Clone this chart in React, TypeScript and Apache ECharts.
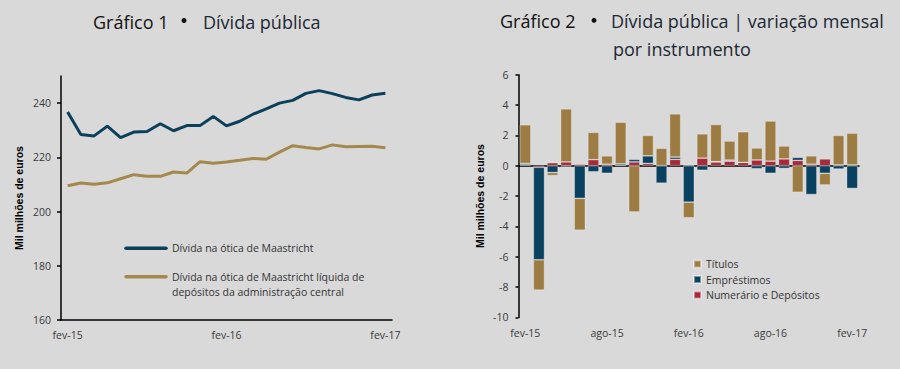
import React, { useEffect, useRef } from 'react';
import * as echarts from 'echarts';

const months = ['fev-15','mar-15','abr-15','mai-15','jun-15','jul-15','ago-15','set-15','out-15','nov-15','dez-15','jan-16','fev-16','mar-16','abr-16','mai-16','jun-16','jul-16','ago-16','set-16','out-16','nov-16','dez-16','jan-17','fev-17'];

const dividaMaastricht = [236.7,228.4,227.9,231.5,227.3,229.3,229.5,232.4,229.8,231.7,231.7,235.1,231.6,233.3,235.9,237.9,240.0,241.0,243.6,244.6,243.5,242.1,241.2,243.0,243.6];
const dividaLiquida = [209.5,210.5,210.1,210.6,212.1,213.6,213.0,213.0,214.6,214.2,218.4,217.8,218.3,218.9,219.6,219.3,221.9,224.3,223.6,223.1,224.6,223.9,224.0,224.1,223.5];

const titulos = [2.55,-2.0,-0.2,3.5,-2.1,1.8,0.55,2.75,-3.05,1.35,1.15,2.85,-1.03,1.6,2.45,1.26,2.02,0.79,2.65,0.85,-1.75,0.55,-0.77,1.95,2.1];
const emprestimos = [0.1,-6.1,-0.45,-0.05,-2.15,-0.4,-0.5,0.1,0.17,0.5,-1.15,0.15,-2.4,-0.3,0.02,0.07,0,-0.2,-0.5,-0.18,0.2,-1.9,-0.5,-0.22,-1.5];
const numerario = [0.05,-0.1,0.2,0.25,0.1,0.4,0.1,0.02,0.25,0.15,0,0.42,0,0.5,0.25,0.3,0.22,0.38,0.3,0.45,0.35,0.1,0.45,0.05,0.05];

const leftTicks = [160, 180, 200, 220, 240];

const BLUE = '#0b4160';
const GOLD = '#9c7c42';
const RED = '#a62a3a';
const LINE_BLUE = '#0c3f5a';
const LINE_GOLD = '#a4884c';
const FONT = 'Open Sans';
const LABEL = '#3a3a3a';

export default function App() {
  const ref = useRef<HTMLDivElement>(null);
  useEffect(() => {
    const chart = echarts.init(ref.current!, null, { renderer: 'svg' });
    const axisLine = { lineStyle: { color: '#000', width: 1.5 } };
    const labelStyle = { color: LABEL, fontSize: 10.5, fontFamily: FONT };
    const nameStyle = { fontWeight: 'bold', fontSize: 10.5, color: '#000', fontFamily: 'Liberation Sans' };
    const barStyle = (c: string) => ({ color: c, borderColor: 'rgba(255,255,255,0.45)', borderWidth: 0.7 });
    const option: any = {
      animation: false,
      backgroundColor: '#d9d9d9',
      grid: [
        { left: 61, top: 76, width: 331, height: 244 },
        { left: 518.5, top: 74.7, width: 340.5, height: 242.7 },
      ],
      xAxis: [
        {
          gridIndex: 0, type: 'category', data: months, boundaryGap: true,
          axisLine,
          axisTick: { interval: 11, length: 3, lineStyle: { color: '#000', width: 1.5 } },
          axisLabel: { ...labelStyle, interval: 11, margin: 9 },
          splitLine: { show: false },
        },
        {
          gridIndex: 1, type: 'category', data: months, boundaryGap: true, position: 'bottom',
          axisLine: { show: false, onZero: false },
          axisTick: { show: false },
          axisLabel: { ...labelStyle, interval: 5, margin: 10 },
          splitLine: { show: false },
        },
        {
          gridIndex: 1, type: 'category', data: months, boundaryGap: true, position: 'bottom',
          axisLine: { ...axisLine, onZero: true },
          axisTick: { interval: 5, length: 3, lineStyle: { color: '#000', width: 1.2 } },
          axisLabel: { show: false },
          splitLine: { show: false },
        },
      ],
      yAxis: [
        {
          gridIndex: 0, type: 'value', min: 160, max: 250, interval: 20,
          axisLine: { show: true, ...axisLine },
          axisTick: { show: true, length: 4, customValues: leftTicks, lineStyle: { color: '#000', width: 1.5 } },
          axisLabel: { ...labelStyle, margin: 10, customValues: leftTicks },
          splitLine: { show: false },
          name: 'Mil milhões de euros', nameLocation: 'middle', nameGap: 37,
          nameTextStyle: nameStyle,
        },
        {
          gridIndex: 1, type: 'value', min: -10, max: 6, interval: 2,
          axisLine: { show: true, onZero: false, ...axisLine },
          axisTick: { show: true, length: 3, lineStyle: { color: '#000', width: 1.5 } },
          axisLabel: { ...labelStyle, margin: 10 },
          splitLine: { show: false },
          name: 'Mil milhões de euros', nameLocation: 'middle', nameGap: 33.5,
          nameTextStyle: nameStyle,
        },
      ],
      legend: [
        {
          data: ['Títulos', 'Empréstimos', 'Numerário e Depósitos'],
          orient: 'vertical', left: 693, top: 258, padding: 0,
          itemWidth: 7, itemHeight: 7, itemGap: 3.5, icon: 'rect',
          selectedMode: false,
          textStyle: { fontSize: 10.5, color: '#333', fontFamily: FONT, lineHeight: 12 },
        },
      ],
      series: [
        {
          name: 'Dívida na ótica de Maastricht', type: 'line', xAxisIndex: 0, yAxisIndex: 0,
          data: dividaMaastricht, symbol: 'none', lineStyle: { color: LINE_BLUE, width: 3 },
          itemStyle: { color: LINE_BLUE },
        },
        {
          name: 'Dívida na ótica de Maastricht líquida de depósitos da administração central',
          type: 'line', xAxisIndex: 0, yAxisIndex: 0,
          data: dividaLiquida, symbol: 'none', lineStyle: { color: LINE_GOLD, width: 3 },
          itemStyle: { color: LINE_GOLD },
        },
        {
          name: 'Numerário e Depósitos', type: 'bar', xAxisIndex: 1, yAxisIndex: 1, stack: 'v',
          data: numerario, barCategoryGap: '18%', itemStyle: barStyle(RED),
        },
        {
          name: 'Empréstimos', type: 'bar', xAxisIndex: 1, yAxisIndex: 1, stack: 'v',
          data: emprestimos, barCategoryGap: '18%', itemStyle: barStyle(BLUE),
        },
        {
          name: 'Títulos', type: 'bar', xAxisIndex: 1, yAxisIndex: 1, stack: 'v',
          data: titulos, barCategoryGap: '18%', itemStyle: barStyle(GOLD),
        },
      ],
      graphic: [
        { type: 'text', x: 93, y: 22, style: { text: 'Gráfico 1', fontSize: 18, fill: '#111', fontFamily: FONT, verticalAlign: 'middle' } },
        { type: 'circle', shape: { cx: 184, cy: 20.5, r: 2.5 }, style: { fill: '#111' } },
        { type: 'text', x: 203, y: 22, style: { text: 'Dívida pública', fontSize: 18, fill: '#1c2833', fontFamily: FONT, verticalAlign: 'middle' } },
        { type: 'text', x: 500, y: 21, style: { text: 'Gráfico 2', fontSize: 18, fill: '#111', fontFamily: FONT, verticalAlign: 'middle' } },
        { type: 'circle', shape: { cx: 594, cy: 20.3, r: 2.5 }, style: { fill: '#111' } },
        { type: 'text', x: 611, y: 21, style: { text: 'Dívida pública | variação mensal', fontSize: 18, fill: '#1c2833', fontFamily: FONT, verticalAlign: 'middle' } },
        { type: 'text', x: 613, y: 48.5, style: { text: 'por instrumento', fontSize: 18, fill: '#1c2833', fontFamily: FONT, verticalAlign: 'middle' } },
        { type: 'line', shape: { x1: 126, y1: 248.3, x2: 166, y2: 248.3 }, style: { stroke: LINE_BLUE, lineWidth: 3.5, lineCap: 'round' } },
        { type: 'text', x: 172, y: 248.3, style: { text: 'Dívida na ótica de Maastricht', fontSize: 10.5, fill: '#333', fontFamily: FONT, verticalAlign: 'middle' } },
        { type: 'line', shape: { x1: 126, y1: 276.7, x2: 166, y2: 276.7 }, style: { stroke: LINE_GOLD, lineWidth: 3.5, lineCap: 'round' } },
        { type: 'text', x: 172, y: 276.7, style: { text: 'Dívida na ótica de Maastricht líquida de', fontSize: 10.5, fill: '#333', fontFamily: FONT, verticalAlign: 'middle' } },
        { type: 'text', x: 172, y: 291.7, style: { text: 'depósitos da administração central', fontSize: 10.5, fill: '#333', fontFamily: FONT, verticalAlign: 'middle' } },
      ],
    };
    chart.setOption(option);
    return () => chart.dispose();
  }, []);
  return <div ref={ref} style={{ position: 'absolute', left: 0, top: 0, width: 900, height: 369 }} />;
}
